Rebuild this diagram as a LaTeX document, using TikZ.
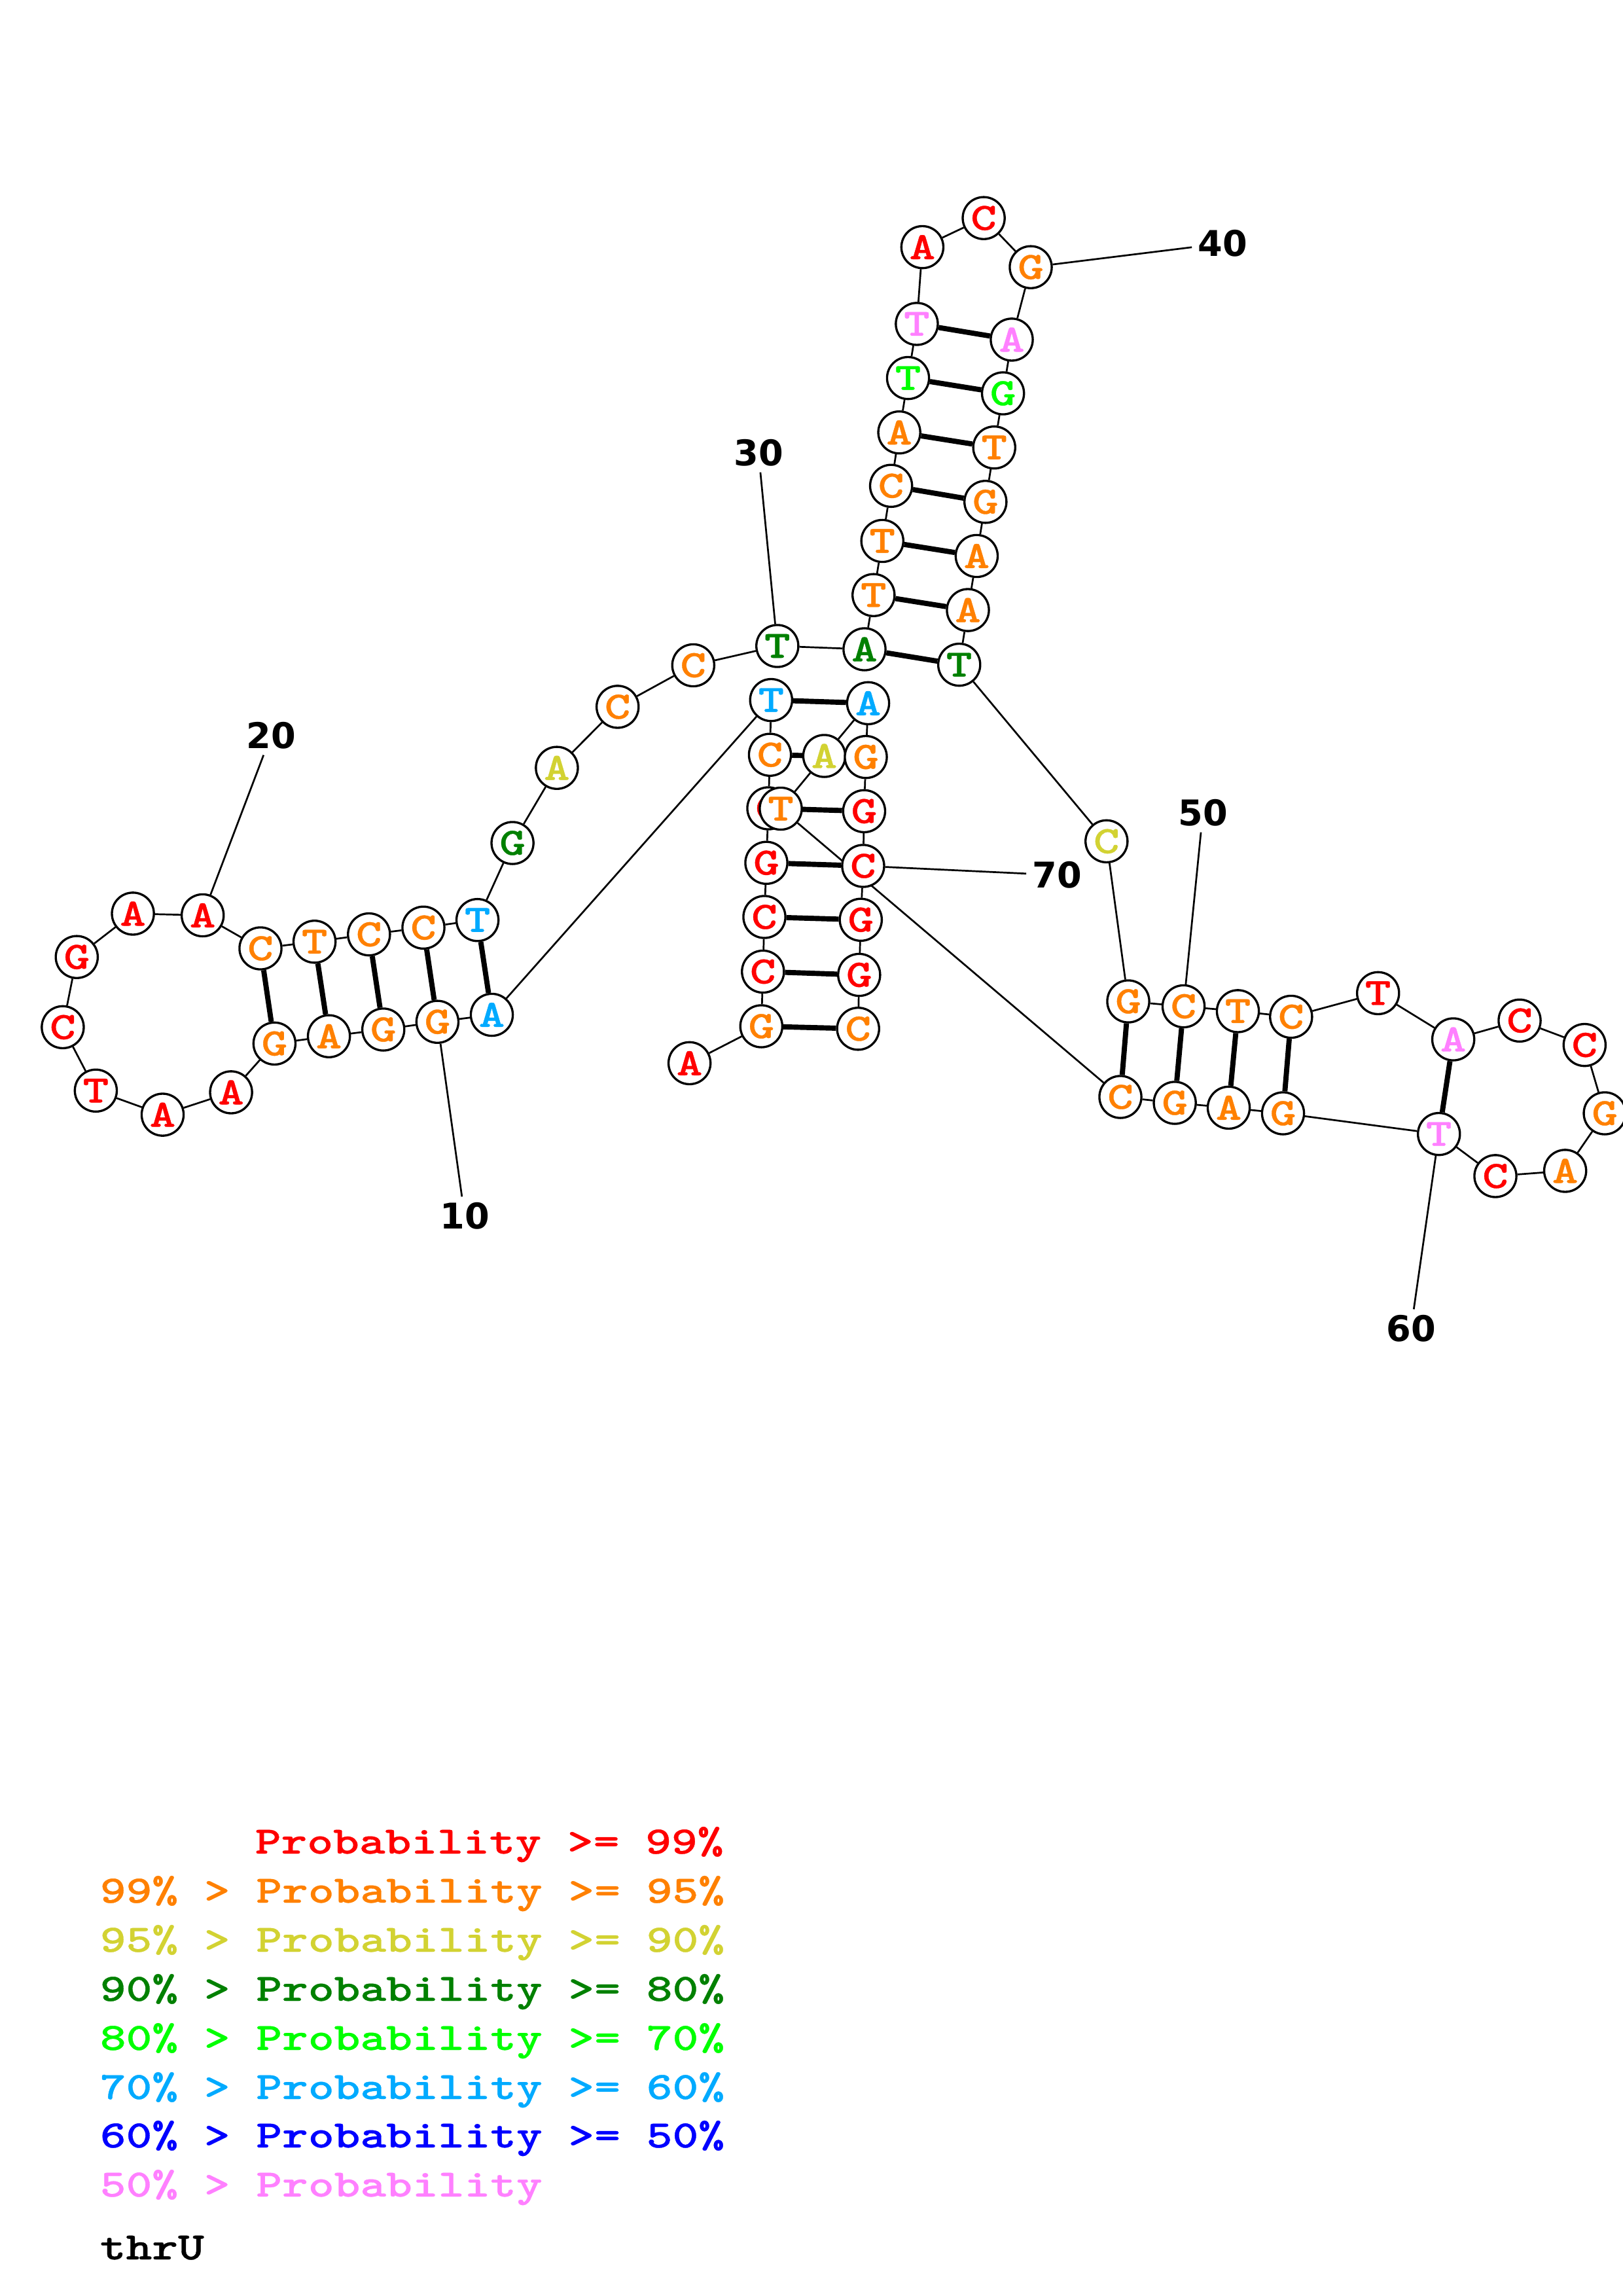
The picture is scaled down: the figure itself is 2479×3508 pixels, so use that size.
\documentclass[tikz,border=0pt]{standalone}
\usepackage{fontspec}
\newfontfamily\courfont{lmmonolt10-bold}[Extension=.otf, FakeStretch=1.28, FakeBold=0.6]
\newfontfamily\numfont{DejaVu Sans}
\usetikzlibrary{backgrounds}

\definecolor{pred}{RGB}{255,0,0}
\definecolor{porange}{RGB}{255,128,0}
\definecolor{pyellow}{RGB}{210,210,50}
\definecolor{pdkgreen}{RGB}{0,128,0}
\definecolor{pltgreen}{RGB}{0,255,0}
\definecolor{pltblue}{RGB}{0,170,255}
\definecolor{pdkblue}{RGB}{0,0,255}
\definecolor{ppink}{RGB}{255,128,255}

\begin{document}
\begin{tikzpicture}[x=0.24pt, y=-0.24pt,
  nt/.style={circle, draw, line width=0.8pt, fill=white, minimum size=15.4pt, inner sep=0pt,
    font=\fontsize{14.2}{14.2}\selectfont\courfont},
  bb/.style={line width=0.65pt},
  bp/.style={line width=1.9pt},
  num/.style={inner sep=2pt, font=\fontsize{13}{13}\selectfont\numfont\bfseries},
  key/.style={anchor=base west, inner sep=0pt, font=\fontsize{14.2}{14.2}\selectfont\courfont}]
\useasboundingbox (0,0) rectangle (2479,3508);

\node[nt, text=pred] (n1) at (1053.6,1624.4) {A};
\node[nt, text=porange] (n2) at (1163.3,1568) {G};
\node[nt, text=pred] (n3) at (1165.8,1484.5) {C};
\node[nt, text=pred] (n4) at (1168,1401) {C};
\node[nt, text=pred] (n5) at (1171,1318.3) {G};
\node[nt, text=pred] (n6) at (1174,1235) {C};
\node[nt, text=porange] (n7) at (1176.5,1153.2) {C};
\node[nt, text=pltblue] (n8) at (1178.3,1069.6) {T};
\node[nt, text=pltblue] (n9) at (751.5,1550.5) {A};
\node[nt, text=porange] (n10) at (668.4,1561.2) {G};
\node[nt, text=porange] (n11) at (585.7,1573) {G};
\node[nt, text=porange] (n12) at (502.6,1583.2) {A};
\node[nt, text=porange] (n13) at (419.4,1594.4) {G};
\node[nt, text=pred] (n14) at (353.1,1668.9) {A};
\node[nt, text=pred] (n15) at (248.5,1703.1) {A};
\node[nt, text=pred] (n16) at (146.4,1666.3) {T};
\node[nt, text=pred] (n17) at (95.9,1569.4) {C};
\node[nt, text=pred] (n18) at (117.3,1462.2) {G};
\node[nt, text=pred] (n19) at (203.1,1395.9) {A};
\node[nt, text=pred] (n20) at (309.7,1398.5) {A};
\node[nt, text=porange] (n21) at (398,1449) {C};
\node[nt, text=porange] (n22) at (480.6,1438.8) {T};
\node[nt, text=porange] (n23) at (563.8,1427.6) {C};
\node[nt, text=porange] (n24) at (647,1417.3) {C};
\node[nt, text=pltblue] (n25) at (729.6,1405.7) {T};
\node[nt, text=pdkgreen] (n26) at (783.1,1288) {G};
\node[nt, text=pyellow] (n27) at (850.9,1173.2) {A};
\node[nt, text=porange] (n28) at (943.7,1079.9) {C};
\node[nt, text=porange] (n29) at (1059.3,1016.5) {C};
\node[nt, text=pdkgreen] (n30) at (1187.8,987) {T};
\node[nt, text=pdkgreen] (n31) at (1321,992) {A};
\node[nt, text=porange] (n32) at (1334.8,909.2) {T};
\node[nt, text=porange] (n33) at (1348.2,826.5) {T};
\node[nt, text=porange] (n34) at (1361.6,742.3) {C};
\node[nt, text=porange] (n35) at (1374.1,660.7) {A};
\node[nt, text=pltgreen] (n36) at (1387.5,577.6) {T};
\node[nt, text=ppink] (n37) at (1400.9,494.9) {T};
\node[nt, text=pred] (n38) at (1409.4,377.6) {A};
\node[nt, text=pred] (n39) at (1503.1,333.2) {C};
\node[nt, text=porange] (n40) at (1575,408.2) {G};
\node[nt, text=ppink] (n41) at (1546,518.9) {A};
\node[nt, text=pltgreen] (n42) at (1532.6,601) {G};
\node[nt, text=porange] (n43) at (1519.2,683.7) {T};
\node[nt, text=porange] (n44) at (1505.8,766.8) {G};
\node[nt, text=porange] (n45) at (1492.4,849.5) {A};
\node[nt, text=porange] (n46) at (1479,932.1) {A};
\node[nt, text=pdkgreen] (n47) at (1465.7,1015.6) {T};
\node[nt, text=pyellow] (n48) at (1690.8,1285.4) {C};
\node[nt, text=porange] (n49) at (1724,1530) {G};
\node[nt, text=porange] (n50) at (1808.5,1537.5) {C};
\node[nt, text=porange] (n51) at (1891.5,1544.9) {T};
\node[nt, text=porange] (n52) at (1972.8,1553.5) {C};
\node[nt, text=pred] (n53) at (2105.7,1517.4) {T};
\node[nt, text=ppink] (n54) at (2220.6,1588) {A};
\node[nt, text=pred] (n55) at (2322,1559.3) {C};
\node[nt, text=pred] (n56) at (2421.3,1596.6) {C};
\node[nt, text=porange] (n57) at (2452.1,1701) {G};
\node[nt, text=porange] (n58) at (2391.6,1788.9) {A};
\node[nt, text=pred] (n59) at (2285,1796.9) {C};
\node[nt, text=ppink] (n60) at (2198.7,1732.6) {T};
\node[nt, text=porange] (n61) at (1960.5,1701) {G};
\node[nt, text=porange] (n62) at (1877.5,1692.4) {A};
\node[nt, text=porange] (n63) at (1795.1,1685) {G};
\node[nt, text=porange] (n64) at (1712,1676) {C};
\node[nt, text=porange] (n65) at (1193,1235.5) {T};
\node[nt, text=pyellow] (n66) at (1259.5,1155) {A};
\node[nt, text=pltblue] (n67) at (1326.5,1074.4) {A};
\node[nt, text=porange] (n68) at (1323,1156.6) {G};
\node[nt, text=pred] (n69) at (1320.4,1239.4) {G};
\node[nt, text=pred] (n70) at (1318.9,1323) {C};
\node[nt, text=pred] (n71) at (1315.3,1405.3) {G};
\node[nt, text=pred] (n72) at (1312.8,1489.5) {G};
\node[nt, text=porange] (n73) at (1311.2,1571.8) {C};

\node[num] (l10) at (710,1858) {10};
\node[num] (l20) at (414,1124) {20};
\node[num] (l30) at (1159,692) {30};
\node[num] (l40) at (1868,372) {40};
\node[num] (l50) at (1838,1242) {50};
\node[num] (l60) at (2156,2030) {60};
\node[num] (l70) at (1615,1337) {70};

\begin{scope}[on background layer]
\draw[bb] (n1) -- (n2) -- (n3) -- (n4) -- (n5) -- (n6) -- (n7) -- (n8) -- (n9) -- (n10)
  -- (n11) -- (n12) -- (n13) -- (n14) -- (n15) -- (n16) -- (n17) -- (n18) -- (n19) -- (n20)
  -- (n21) -- (n22) -- (n23) -- (n24) -- (n25) -- (n26) -- (n27) -- (n28) -- (n29) -- (n30)
  -- (n31) -- (n32) -- (n33) -- (n34) -- (n35) -- (n36) -- (n37) -- (n38) -- (n39) -- (n40)
  -- (n41) -- (n42) -- (n43) -- (n44) -- (n45) -- (n46) -- (n47) -- (n48) -- (n49) -- (n50)
  -- (n51) -- (n52) -- (n53) -- (n54) -- (n55) -- (n56) -- (n57) -- (n58) -- (n59) -- (n60)
  -- (n61) -- (n62) -- (n63) -- (n64) -- (n65) -- (n66) -- (n67) -- (n68) -- (n69) -- (n70)
  -- (n71) -- (n72) -- (n73);
\draw[bp] (n2) -- (n73) (n3) -- (n72) (n4) -- (n71) (n5) -- (n70) (n6) -- (n69)
  (n7) -- (n68) (n8) -- (n67);
\draw[bp] (n9) -- (n25) (n10) -- (n24) (n11) -- (n23) (n12) -- (n22) (n13) -- (n21);
\draw[bp] (n31) -- (n47) (n32) -- (n46) (n33) -- (n45) (n34) -- (n44) (n35) -- (n43)
  (n36) -- (n42) (n37) -- (n41);
\draw[bp] (n49) -- (n64) (n50) -- (n63) (n51) -- (n62) (n52) -- (n61) (n54) -- (n60);
\draw[bb] (n10) -- (l10) (n20) -- (l20) (n30) -- (l30) (n40) -- (l40)
  (n50) -- (l50) (n60) -- (l60) (n70) -- (l70);
\end{scope}

\node[key, text=pred] (k1) at (389,2832) {Probability >= 99\%};
\node[key, text=porange] (k2) at (152,2907) {99\% > Probability >= 95\%};
\node[key, text=pyellow] (k3) at (152,2982) {95\% > Probability >= 90\%};
\node[key, text=pdkgreen] (k4) at (152,3057) {90\% > Probability >= 80\%};
\node[key, text=pltgreen] (k5) at (152,3132) {80\% > Probability >= 70\%};
\node[key, text=pltblue] (k6) at (152,3207) {70\% > Probability >= 60\%};
\node[key, text=pdkblue] (k7) at (152,3281) {60\% > Probability >= 50\%};
\node[key, text=ppink] (k8) at (152,3356) {50\% > Probability};
\node[key] (k9) at (152,3452) {thrU};
\end{tikzpicture}
\end{document}
